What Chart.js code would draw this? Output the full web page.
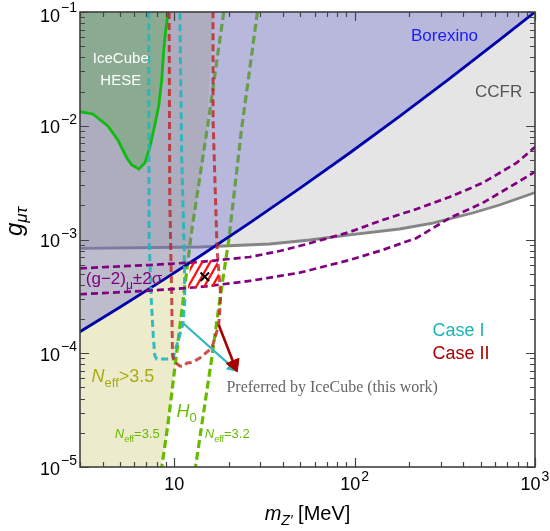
<!DOCTYPE html>
<html><head><meta charset="utf-8">
<script src="https://cdn.jsdelivr.net/npm/chart.js@4.4.1/dist/chart.umd.min.js"></script>
<style>html,body{margin:0;padding:0;background:#fff;overflow:hidden}canvas{display:block}</style>
</head><body>
<canvas id="c" width="550" height="531"></canvas>
<script>
// ---------- data (m_Z' in MeV, g_mu-tau) ----------
const borexinoX = [3.0, 4.99, 8.31, 13.85, 26.2, 49.6, 93.8, 177.4, 336, 635.6, 1000];
const borexinoY = [1.547e-4, 2.537e-4, 4.22e-4, 7.13e-4, 1.4e-3, 2.81e-3, 5.76e-3, 1.208e-2, 2.592e-2, 5.68e-2, 0.1];

const ccfrX = [3.0, 13.85, 33.8, 56.3, 93.8, 177.4, 270.4, 450.6, 635.6, 1000];
const ccfrY = [8.34e-4, 8.59e-4, 9.13e-4, 9.9e-4, 1.096e-3, 1.237e-3, 1.396e-3, 1.71e-3, 2.01e-3, 2.59e-3];

const iceX = [3.0, 3.536, 4.28, 4.864, 5.455, 5.815, 6.36, 6.865, 7.32, 7.80, 8.21, 8.52, 8.74, 8.97, 9.24];
const iceY = [1.328e-2, 1.269e-2, 9.95e-3, 7.5e-3, 5.21e-3, 4.52e-3, 4.17e-3, 4.7e-3, 6.5e-3, 1.015e-2, 1.52e-2, 2.525e-2, 4.63e-2, 6.95e-2, 0.1];

// N_eff > 3.5 shaded region edge, and the N_eff = 3.5 / 3.2 dashed contours
const neffEdgeX = [16.5, 15.0, 12.5, 10.19, 9.21, 8.52];
const neffEdgeY = [0.1, 7e-3, 1.213e-3, 8.73e-5, 2.34e-5, 1e-5];
const neff35X = [18.8, 15.33, 12.5, 10.19, 9.21, 8.52];
const neff35Y = [0.1, 1.015e-2, 1.213e-3, 8.73e-5, 2.34e-5, 1e-5];
const neff32X = [28.9, 23.57, 20.04, 17.87, 16.08, 14.33, 13.11];
const neff32Y = [0.1, 9.18e-3, 9.9e-4, 2.94e-4, 8.73e-5, 2.59e-5, 1e-5];

const caseIX = [7.22, 7.22, 7.25, 7.45, 7.65, 7.8, 8.0, 9.0, 9.8, 11.19, 11.44, 11.35, 11.0, 10.73];
const caseIY = [0.1, 1e-2, 1e-3, 3e-4, 1.4e-4, 9.5e-5, 8.9e-5, 8.9e-5, 8.9e-5, 1.83e-4, 2.94e-4, 8.1e-4, 5e-3, 0.1];

const caseIIX = [9.36, 9.44, 9.68, 9.77, 10.06, 10.73, 11.17, 11.77, 12.5, 13.85, 16.14, 17.64, 18.03, 17.98, 17.27, 16.4, 16.4];
const caseIIY = [0.1, 2.22e-3, 2.94e-4, 9.65e-5, 8.37e-5, 7.72e-5, 7.65e-5, 8.2e-5, 8.3e-5, 9.08e-5, 1.11e-4, 1.77e-4, 2.94e-4, 3.6e-4, 8.09e-4, 1.124e-2, 0.1];

const g2UpX = [3.0, 7.32, 13.85, 26.2, 38.4, 56.3, 93.8, 142.9, 220.5, 336, 512, 790, 1000];
const g2UpY = [5.58e-4, 5.97e-4, 6.34e-4, 7.02e-4, 7.92e-4, 9.26e-4, 1.164e-3, 1.484e-3, 1.853e-3, 2.364e-3, 3.14e-3, 4.71e-3, 6.5e-3];
const g2LoX = [3.0, 7.32, 13.85, 26.2, 49.6, 93.8, 142.9, 220.5, 336, 512, 790, 1000];
const g2LoY = [3.3e-4, 3.55e-4, 3.82e-4, 4.32e-4, 5.11e-4, 6.6e-4, 8.09e-4, 1.031e-3, 1.545e-3, 2.094e-3, 3.14e-3, 3.94e-3];

const hatchX = [12.26, 17.31, 17.87, 11.88];
const hatchY = [6.15e-4, 6.74e-4, 3.94e-4, 3.67e-4];

const bestFitX = [14.76];
const bestFitY = [4.71e-4];

const arrowCyanX = [11.19, 20.96];
const arrowCyanY = [1.834e-4, 7.55e-5];
const arrowRedX = [17.64, 21.47];
const arrowRedY = [1.77e-4, 7.95e-5];

const X_MIN = 3, X_MAX = 1000, Y_MIN = 1e-5, Y_MAX = 0.1;

// ---------- helpers ----------
const pts = (xs, ys) => xs.map((x, i) => ({x, y: ys[i]}));
const SANS = "'Liberation Sans', Arial, Helvetica, sans-serif";
const SERIF = "'Liberation Serif', 'Times New Roman', serif";
function isMajor(v) { const l = Math.log10(v); return Math.abs(l - Math.round(l)) < 1e-6; }
function logTicks(scale) {
  const lo = Math.floor(Math.log10(scale.min) + 1e-9), hi = Math.ceil(Math.log10(scale.max) - 1e-9);
  const t = [];
  for (let e = lo; e <= hi; e++) for (let k = 1; k <= 9; k++) {
    const v = parseFloat((k * Math.pow(10, e)).toPrecision(6));
    if (v >= scale.min * 0.999999 && v <= scale.max * 1.000001) t.push({value: v, major: k === 1});
  }
  scale.ticks = t;
}
function hatchPattern() {
  const c = document.createElement('canvas'); c.width = 8; c.height = 14;
  const g = c.getContext('2d');
  g.strokeStyle = '#ff1010'; g.lineWidth = 2.3;
  g.beginPath();
  for (let k = 0; k <= 2; k++) {
    const x0 = -2, x1 = 10;
    g.moveTo(x0, (112 * k - 14 * x0) / 8); g.lineTo(x1, (112 * k - 14 * x1) / 8);
  }
  g.stroke();
  return document.getElementById('c').getContext('2d').createPattern(c, 'repeat');
}

const fillOnly = (data, color, order) => ({data, fill: 'shape', backgroundColor: color, borderColor: 'transparent', borderWidth: 0, pointRadius: 0, order});
const lineOnly = (data, color, width, dash, order) => ({data, fill: false, borderColor: color, borderWidth: width, borderDash: dash || [], pointRadius: 0, order});

const datasets = [
  fillOnly([{x: X_MIN, y: Y_MAX}, ...pts(neffEdgeX, neffEdgeY), {x: X_MIN, y: Y_MIN}], '#ececcd', 100),
  fillOnly([...pts(ccfrX, ccfrY), {x: X_MAX, y: Y_MAX}, {x: X_MIN, y: Y_MAX}], 'rgba(0,0,0,0.10)', 95),
  lineOnly(pts(ccfrX, ccfrY), '#858585', 2.8, null, 94),
  lineOnly(pts(neff35X, neff35Y), '#66bb00', 3.2, [8, 4], 90),
  lineOnly(pts(neff32X, neff32Y), '#66bb00', 3.2, [8, 4], 89),
  fillOnly([...pts(borexinoX, borexinoY), {x: X_MIN, y: Y_MAX}], 'rgba(106,106,204,0.37)', 80),
  lineOnly(pts(borexinoX, borexinoY), '#0000aa', 2.8, null, 79),
  fillOnly([...pts(iceX, iceY), {x: X_MIN, y: Y_MAX}], 'rgba(95,168,88,0.45)', 70),
  lineOnly(pts(iceX, iceY), '#10bb10', 2.8, null, 69),
  lineOnly(pts(caseIX, caseIY), 'rgba(35,182,188,0.92)', 3, [7, 4], 60),
  lineOnly(pts(caseIIX, caseIIY), 'rgba(190,35,35,0.8)', 3, [7, 4], 59),
  lineOnly(pts(g2UpX, g2UpY), '#800080', 2.7, [7, 4], 50),
  lineOnly(pts(g2LoX, g2LoY), '#800080', 2.7, [7, 4], 49),
  fillOnly([...pts(hatchX, hatchY)], hatchPattern(), 40),
  {data: pts(bestFitX, bestFitY), showLine: false, pointStyle: 'crossRot', pointRadius: 6, pointBorderColor: '#000', pointBorderWidth: 2, order: 30},
  {data: pts(arrowCyanX, arrowCyanY), borderColor: '#2fb8c0', borderWidth: 2.2, fill: false, pointStyle: 'triangle', pointRadius: [0, 6], pointRotation: [0, 131], pointBackgroundColor: '#2fb8c0', pointBorderColor: '#2fb8c0', pointBorderWidth: 1, order: 21},
  {data: pts(arrowRedX, arrowRedY), borderColor: '#a80000', borderWidth: 2.6, fill: false, pointStyle: 'triangle', pointRadius: [0, 8], pointRotation: [0, 157.5], pointBackgroundColor: '#a80000', pointBorderColor: '#a80000', pointBorderWidth: 1, order: 20}
];

// ---------- annotations (placed in data coordinates) ----------
const notes = [
  {parts: [{t: 'IceCube'}], x: 5.05, y: 0.0354, size: 15, color: '#ffffff', align: 'center'},
  {parts: [{t: 'HESE'}], x: 5.05, y: 0.0228, size: 15, color: '#ffffff', align: 'center'},
  {parts: [{t: 'Borexino'}], x: 315, y: 0.0556, size: 17, color: '#1a1aff', align: 'center'},
  {parts: [{t: 'CCFR'}], x: 628, y: 0.01778, size: 17, color: '#555555', align: 'center'},
  {parts: [{t: '(g\u22122)'}, {t: '\u03BC', sub: true}, {t: '\u00B12\u03C3'}], x: 3.23, y: 4.06e-4, size: 17, color: '#800080', align: 'left'},
  {parts: [{t: 'Case I'}], x: 270.4, y: 1.418e-4, size: 18, color: '#20b4b4', align: 'left'},
  {parts: [{t: 'Case II'}], x: 270.4, y: 8.85e-5, size: 18, color: '#aa0000', align: 'left'},
  {parts: [{t: 'Preferred by IceCube (this work)'}], x: 19.46, y: 4.56e-5, size: 16, family: SERIF, color: '#666666', align: 'left'},
  {parts: [{t: 'N', i: true}, {t: 'eff', sub: true}, {t: '>3.5'}], x: 3.48, y: 5.62e-5, size: 18, color: '#aaaa14', align: 'left'},
  {parts: [{t: 'H', i: true}, {t: '0', sub: true}], x: 10.28, y: 2.74e-5, size: 18, color: '#66bb00', align: 'left'},
  {parts: [{t: 'N', i: true}, {t: 'eff', sub: true}, {t: '=3.5'}], x: 4.68, y: 1.787e-5, size: 13, color: '#66bb00', align: 'left'},
  {parts: [{t: 'N', i: true}, {t: 'eff', sub: true}, {t: '=3.2'}], x: 14.76, y: 1.787e-5, size: 13, color: '#66bb00', align: 'left'}
];

function drawRich(ctx, parts, x, y, size, family, color, align, subDy) {
  const sd = subDy === undefined ? 0.28 : subDy;
  const runs = parts.map(p => {
    const sz = (p.sub || p.sup) ? Math.round(size * 0.7) : size;
    const font = (p.i ? 'italic ' : '') + sz + 'px ' + family;
    ctx.font = font;
    return {t: p.t, font, w: ctx.measureText(p.t).width, dy: p.sub ? size * sd : (p.sup ? -size * 0.42 : 0)};
  });
  const total = runs.reduce((s, r) => s + r.w, 0);
  let cx = align === 'center' ? x - total / 2 : (align === 'right' ? x - total : x);
  ctx.fillStyle = color; ctx.textAlign = 'left'; ctx.textBaseline = 'alphabetic';
  runs.forEach(r => { ctx.font = r.font; ctx.fillText(r.t, cx, y + r.dy); cx += r.w; });
  return total;
}
function drawPow(ctx, v, x, yBase, align) {
  const e = Math.round(Math.log10(v));
  const sup = e === 1 ? '' : (e < 0 ? '\u2212' + (-e) : String(e));
  ctx.font = '18px ' + SANS; const w1 = ctx.measureText('10').width;
  ctx.font = '14px ' + SANS; const w2 = sup ? ctx.measureText(sup).width + 1 : 0;
  const total = w1 + w2;
  const x0 = align === 'right' ? x - total : x - total / 2;
  ctx.fillStyle = '#000'; ctx.textAlign = 'left'; ctx.textBaseline = 'alphabetic';
  ctx.font = '18px ' + SANS; ctx.fillText('10', x0, yBase);
  if (sup) { ctx.font = '14px ' + SANS; ctx.fillText(sup, x0 + w1 + 1, yBase - 9.5); }
}

const decor = {
  id: 'decor',
  afterDatasetsDraw(chart) {
    const {ctx, chartArea: a, scales: {x, y}} = chart;
    ctx.save();
    ctx.beginPath(); ctx.rect(a.left, a.top, a.right - a.left, a.bottom - a.top); ctx.clip();
    notes.forEach(n => drawRich(ctx, n.parts, x.getPixelForValue(n.x), y.getPixelForValue(n.y), n.size, n.family || SANS, n.color, n.align));
    ctx.restore();
    ctx.save();
    ctx.strokeStyle = '#444444'; ctx.lineWidth = 1.2;
    ctx.beginPath();
    x.ticks.forEach(t => {
      const p = Math.round(x.getPixelForValue(t.value)) + 0.5, L = t.major ? 9 : 5;
      ctx.moveTo(p, a.bottom); ctx.lineTo(p, a.bottom - L);
      ctx.moveTo(p, a.top); ctx.lineTo(p, a.top + L);
    });
    y.ticks.forEach(t => {
      const p = Math.round(y.getPixelForValue(t.value)) + 0.5, L = t.major ? 9 : 5;
      ctx.moveTo(a.left, p); ctx.lineTo(a.left + L, p);
      ctx.moveTo(a.right, p); ctx.lineTo(a.right - L, p);
    });
    ctx.stroke();
    ctx.lineWidth = 1.6; ctx.strokeStyle = '#404040';
    ctx.strokeRect(a.left, a.top, a.right - a.left, a.bottom - a.top);
    x.ticks.filter(t => isMajor(t.value)).forEach(t => drawPow(ctx, t.value, x.getPixelForValue(t.value), a.bottom + 23, 'center'));
    y.ticks.filter(t => isMajor(t.value)).forEach(t => drawPow(ctx, t.value, a.left - 3, Math.max(y.getPixelForValue(t.value) + 7.5, a.top + 9.7), 'right'));
    const cxm = (a.left + a.right) / 2;
    drawRich(ctx, [{t: 'm', i: true}, {t: 'Z\u2032', sub: true, i: true}, {t: ' [MeV]'}], cxm, 520, 20, SANS, '#000', 'center', 0.25);
    ctx.translate(22, 236);
    ctx.rotate(-Math.PI / 2);
    drawRich(ctx, [{t: 'g', i: true}, {t: '\u03BC\u03C4', sub: true, i: true}], 0, 0, 24, SANS, '#000', 'left', 0.2);
    ctx.restore();
  }
};

new Chart(document.getElementById('c'), {
  type: 'line',
  data: {datasets},
  options: {
    responsive: false, animation: false, events: [],
    layout: {padding: {left: 0, right: 15, top: 12, bottom: 0}},
    elements: {line: {tension: 0}},
    plugins: {legend: {display: false}, tooltip: {enabled: false}},
    scales: {
      x: {
        type: 'logarithmic', min: X_MIN, max: X_MAX,
        afterBuildTicks: logTicks,
        afterFit: s => { s.height = 64; },
        grid: {display: false, drawTicks: false}, border: {display: false},
        ticks: {display: false, autoSkip: false}
      },
      y: {
        type: 'logarithmic', min: Y_MIN, max: Y_MAX,
        afterBuildTicks: logTicks,
        afterFit: s => { s.width = 80; },
        grid: {display: false, drawTicks: false}, border: {display: false},
        ticks: {display: false, autoSkip: false}
      }
    }
  },
  plugins: [decor]
});
</script>
</body></html>
